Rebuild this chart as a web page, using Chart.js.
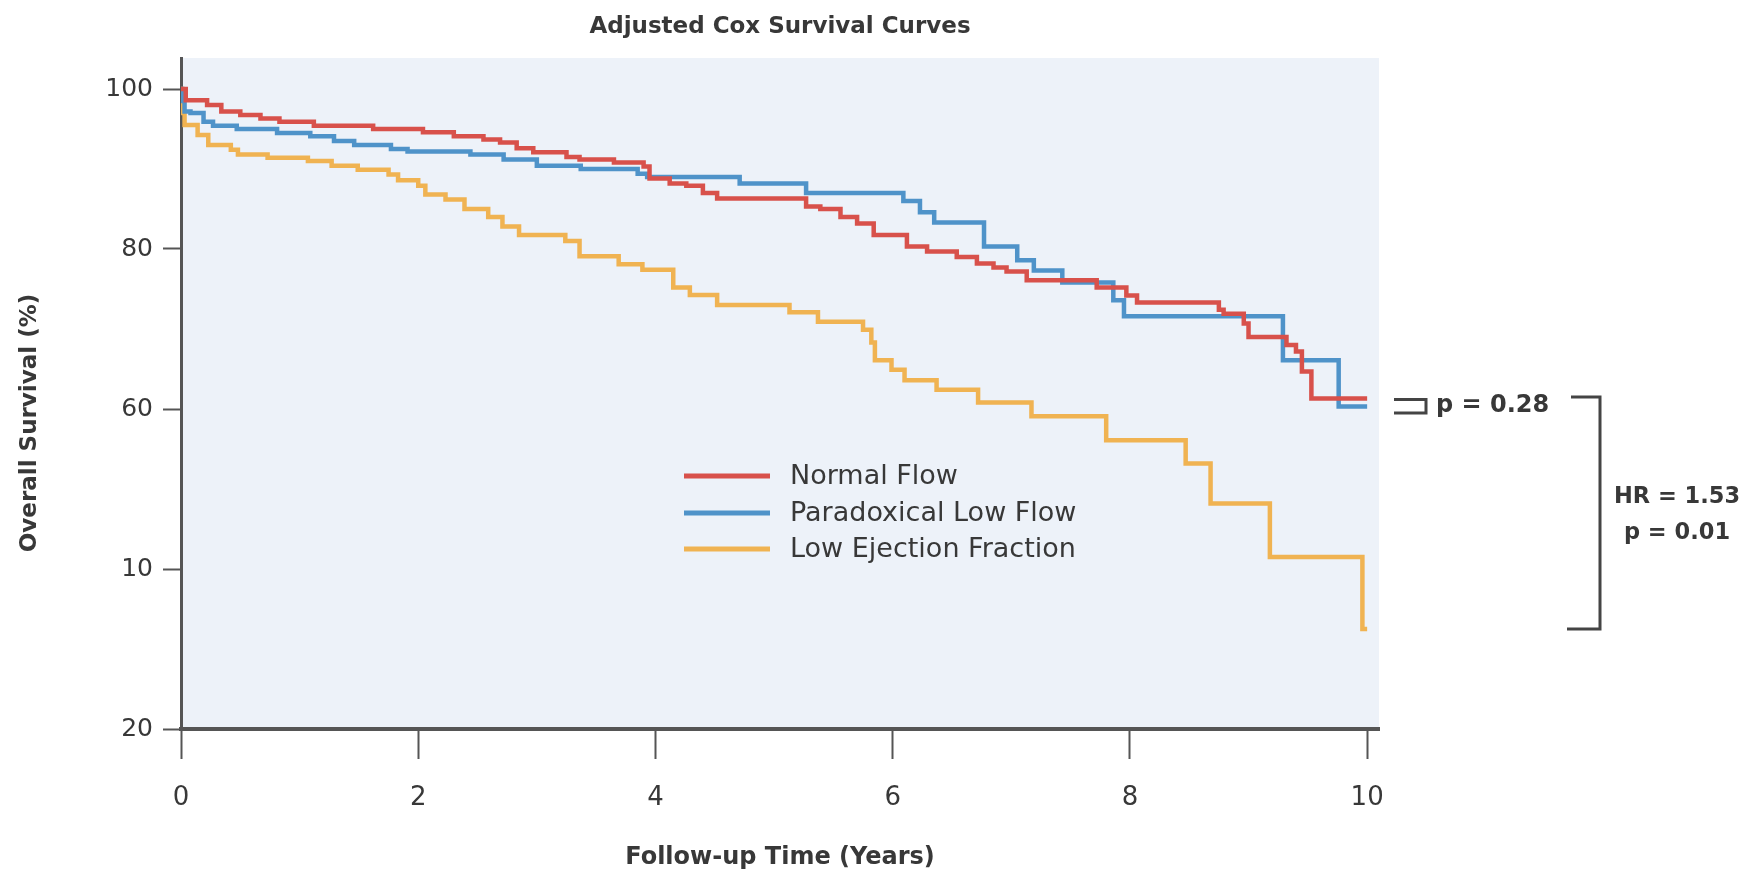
<!DOCTYPE html>
<html>
<head>
<meta charset="utf-8">
<title>Adjusted Cox Survival Curves</title>
<script src="https://cdn.jsdelivr.net/npm/chart.js@4.4.1/dist/chart.umd.min.js"></script>
<style>
  html, body { margin: 0; padding: 0; background: #fff; }
  canvas { display: block; }
</style>
</head>
<body>
<canvas id="survival" width="1744" height="874"></canvas>
<script>
// step times (years) and survival (%) right after each step
const normalTime = [0, 0.04, 0.22, 0.34, 0.50, 0.67, 0.83, 1.12, 1.62, 2.04, 2.30, 2.55, 2.69, 2.83, 2.97, 3.25, 3.36, 3.65, 3.90, 3.95, 4.12, 4.26, 4.40, 4.52, 5.27, 5.39, 5.56, 5.70, 5.84, 6.12, 6.29, 6.54, 6.71, 6.85, 6.96, 7.13, 7.72, 7.97, 8.06, 8.75, 8.79, 8.96, 9.00, 9.32, 9.40, 9.45, 9.53, 10.0];
const normalSurv = [100, 98.6, 98.0, 97.2, 96.75, 96.3, 95.9, 95.4, 95.0, 94.6, 94.1, 93.7, 93.3, 92.6, 92.1, 91.5, 91.2, 90.8, 90.3, 88.8, 88.2, 87.9, 87.0, 86.3, 85.3, 85.0, 84.0, 83.2, 81.75, 80.3, 79.7, 79.0, 78.2, 77.7, 77.2, 76.1, 75.2, 74.2, 73.3, 72.4, 71.9, 70.7, 69.0, 68.0, 67.2, 64.7, 61.3, 61.3];

const paradoxTime = [0, 0.01, 0.03, 0.08, 0.19, 0.27, 0.47, 0.81, 1.09, 1.29, 1.46, 1.77, 1.91, 2.44, 2.72, 3.00, 3.37, 3.85, 3.93, 4.71, 5.27, 6.09, 6.23, 6.35, 6.77, 7.05, 7.19, 7.43, 7.86, 7.95, 9.29, 9.76, 10.0];
const paradoxSurv = [100, 98.5, 97.2, 97.0, 95.9, 95.4, 95.0, 94.5, 94.1, 93.5, 93.0, 92.5, 92.2, 91.8, 91.2, 90.4, 90.0, 89.4, 89.0, 88.2, 87.0, 86.0, 84.6, 83.3, 80.3, 78.6, 77.3, 75.8, 73.6, 71.6, 66.1, 60.3, 60.3];

const lowEfTime = [0, 0.01, 0.03, 0.14, 0.23, 0.42, 0.48, 0.73, 1.07, 1.27, 1.49, 1.75, 1.83, 2.00, 2.06, 2.23, 2.39, 2.59, 2.71, 2.85, 3.24, 3.36, 3.69, 3.89, 4.15, 4.29, 4.52, 5.13, 5.37, 5.75, 5.82, 5.85, 5.99, 6.10, 6.37, 6.72, 7.17, 7.80, 8.47, 8.68, 9.18, 9.96, 10.0];
const lowEfSurv = [100, 97.0, 95.5, 94.25, 93.0, 92.4, 91.8, 91.4, 91.0, 90.4, 89.9, 89.3, 88.6, 87.9, 86.8, 86.2, 85.0, 84.0, 82.8, 81.75, 81.0, 79.1, 78.1, 77.4, 75.2, 74.25, 73.0, 72.1, 70.9, 69.9, 68.3, 66.1, 64.9, 63.6, 62.4, 60.8, 59.1, 56.1, 53.2, 48.2, 41.5, 32.5, 32.5];

const seriesNames = ["Normal Flow", "Paradoxical Low Flow", "Low Ejection Fraction"];
const seriesColors = ["#d8514b", "#4f93c9", "#f0b352"];

const xTicks = [0, 2, 4, 6, 8, 10];
const yTicks = [20, 40, 60, 80, 100];
const yTickLabels = ["20", "10", "60", "80", "100"];

const chartTitle = "Adjusted Cox Survival Curves";
const xTitle = "Follow-up Time (Years)";
const yTitle = "Overall Survival (%)";
const pPairText = "p = 0.28";
const hrText = ["HR = 1.53", "p = 0.01"];

const FONT = "'DejaVu Sans', Verdana, sans-serif";
const INK = "#383838";

const toPoints = (t, s) => t.map((v, i) => ({ x: v, y: s[i] }));
const series = [
  toPoints(normalTime, normalSurv),
  toPoints(paradoxTime, paradoxSurv),
  toPoints(lowEfTime, lowEfSurv),
];

const datasets = series.map((pts, i) => ({
  label: seriesNames[i],
  data: pts,
  borderColor: seriesColors[i],
  borderWidth: 4.5,
  stepped: "before",
  pointRadius: 0,
  fill: false,
}));

// panel background, titles, legend and the p-value brackets
const decor = {
  id: "decor",
  beforeDraw(chart) {
    const { ctx, chartArea: a } = chart;
    ctx.save();
    ctx.fillStyle = "#edf2f9";
    ctx.fillRect(a.left, a.top, a.right - a.left, a.bottom - a.top);
    ctx.restore();
  },
  afterDraw(chart) {
    const { ctx, chartArea: a, scales: { y } } = chart;
    ctx.save();
    ctx.fillStyle = INK;
    ctx.textAlign = "center";
    ctx.textBaseline = "middle";

    ctx.font = "bold 23px " + FONT;
    ctx.fillText(chartTitle, (a.left + a.right) / 2, 27);

    ctx.save();
    ctx.translate(30, 423);
    ctx.rotate(-Math.PI / 2);
    ctx.fillText(yTitle, 0, 0);
    ctx.restore();

    // legend
    ctx.textAlign = "left";
    ctx.font = "27px " + FONT;
    const rows = [476, 513, 549];
    seriesNames.forEach((name, i) => {
      ctx.strokeStyle = seriesColors[i];
      ctx.lineWidth = 5;
      ctx.beginPath();
      ctx.moveTo(684, rows[i]);
      ctx.lineTo(770, rows[i]);
      ctx.stroke();
      ctx.fillText(name, 790, rows[i] + 1);
    });

    // brackets
    const r = a.right;
    ctx.strokeStyle = "#444";
    ctx.lineWidth = 3;
    const sTop = y.getPixelForValue(61.2);
    const sBot = y.getPixelForValue(59.5);
    ctx.beginPath();
    ctx.moveTo(r + 15, sTop);
    ctx.lineTo(r + 47, sTop);
    ctx.lineTo(r + 47, sBot);
    ctx.lineTo(r + 15, sBot);
    ctx.stroke();

    const bTop = y.getPixelForValue(61.5);
    const bBot = y.getPixelForValue(lowEfSurv[lowEfSurv.length - 1]);
    ctx.beginPath();
    ctx.moveTo(r + 192, bTop);
    ctx.lineTo(r + 221, bTop);
    ctx.lineTo(r + 221, bBot);
    ctx.lineTo(r + 188, bBot);
    ctx.stroke();

    ctx.font = "bold 24px " + FONT;
    ctx.fillText(pPairText, r + 57, (sTop + sBot) / 2);
    ctx.textAlign = "center";
    ctx.font = "bold 22.5px " + FONT;
    ctx.fillText(hrText[0], r + 298, 497);
    ctx.fillText(hrText[1], r + 298, 533);
    ctx.restore();
  },
};

new Chart(document.getElementById("survival"), {
  type: "line",
  data: { datasets },
  plugins: [decor],
  options: {
    responsive: false,
    animation: false,
    devicePixelRatio: 1,
    layout: { padding: { top: 58, right: 365, bottom: 0, left: 0 } },
    plugins: {
      legend: { display: false },
      title: { display: false },
      tooltip: { enabled: false },
    },
    scales: {
      x: {
        type: "linear",
        min: 0,
        max: 10.1,
        afterBuildTicks: (s) => { s.ticks = xTicks.map((v) => ({ value: v })); },
        afterFit: (s) => { s.height = 145; },
        grid: { drawOnChartArea: false, tickLength: 30, tickColor: "#555", tickWidth: 2 },
        border: { color: "#555", width: 4 },
        ticks: { color: INK, font: { family: FONT, size: 26 }, padding: 24, maxRotation: 0 },
        title: {
          display: true,
          text: xTitle,
          color: INK,
          font: { family: FONT, size: 24, weight: "bold" },
          padding: { top: 0, bottom: 2 },
        },
      },
      y: {
        type: "linear",
        min: 20,
        max: 103.875,
        afterBuildTicks: (s) => { s.ticks = yTicks.map((v) => ({ value: v })); },
        afterFit: (s) => { s.width = 181; },
        grid: { drawOnChartArea: false, tickLength: 18, tickColor: "#555", tickWidth: 2 },
        border: { color: "#555", width: 3 },
        ticks: {
          color: INK,
          font: { family: FONT, size: 25 },
          padding: 10,
          callback: (v, i) => yTickLabels[i],
        },
      },
    },
  },
});
</script>
</body>
</html>
